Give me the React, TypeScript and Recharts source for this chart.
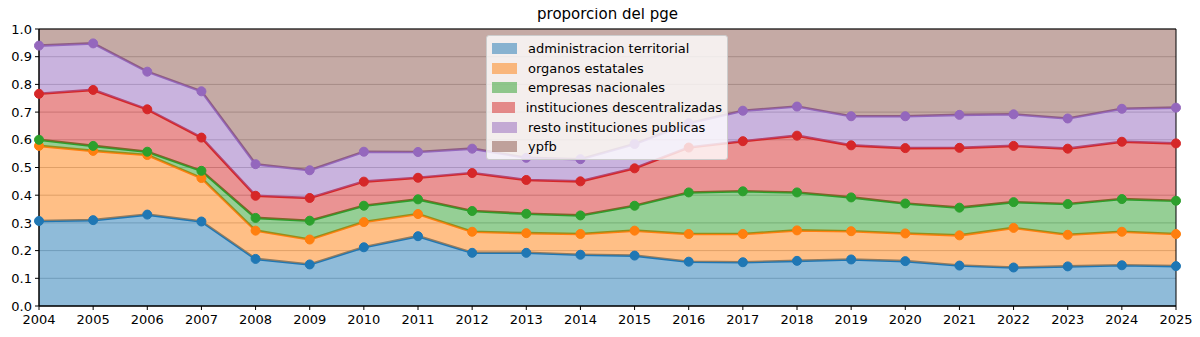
import React from 'react';
import { AreaChart, Area, XAxis, YAxis, CartesianGrid, ReferenceArea } from 'recharts';

const years = [2004, 2005, 2006, 2007, 2008, 2009, 2010, 2011, 2012, 2013, 2014, 2015, 2016, 2017, 2018, 2019, 2020, 2021, 2022, 2023, 2024, 2025];

const adminTerritorial = [0.307, 0.31, 0.33, 0.305, 0.17, 0.15, 0.212, 0.252, 0.192, 0.192, 0.185, 0.182, 0.16, 0.158, 0.163, 0.168, 0.162, 0.146, 0.139, 0.143, 0.147, 0.144];
const organosEstatales = [0.271, 0.25, 0.215, 0.157, 0.102, 0.09, 0.091, 0.08, 0.076, 0.071, 0.075, 0.09, 0.1, 0.102, 0.11, 0.102, 0.1, 0.109, 0.143, 0.114, 0.121, 0.116];
const empresasNacionales = [0.022, 0.018, 0.012, 0.026, 0.046, 0.068, 0.059, 0.053, 0.075, 0.07, 0.067, 0.09, 0.15, 0.154, 0.137, 0.122, 0.108, 0.1, 0.093, 0.111, 0.118, 0.12];
const institucionesDesc = [0.166, 0.202, 0.153, 0.12, 0.08, 0.082, 0.087, 0.078, 0.137, 0.122, 0.123, 0.135, 0.162, 0.181, 0.205, 0.188, 0.2, 0.216, 0.203, 0.2, 0.207, 0.207];
const restoInstituciones = [0.174, 0.168, 0.136, 0.167, 0.114, 0.1, 0.108, 0.093, 0.088, 0.08, 0.08, 0.088, 0.088, 0.11, 0.105, 0.105, 0.115, 0.119, 0.114, 0.109, 0.119, 0.129];
const ypfb = [0.06, 0.052, 0.154, 0.225, 0.488, 0.51, 0.443, 0.444, 0.432, 0.465, 0.47, 0.415, 0.34, 0.295, 0.28, 0.315, 0.315, 0.31, 0.308, 0.323, 0.288, 0.284];

const yTicks = [0, 0.1, 0.2, 0.3, 0.4, 0.5, 0.6, 0.7, 0.8, 0.9, 1.0];

const series = [
  { key: 'administracion territorial', values: adminTerritorial, color: '#1f77b4' },
  { key: 'organos estatales', values: organosEstatales, color: '#ff7f0e' },
  { key: 'empresas nacionales', values: empresasNacionales, color: '#2ca02c' },
  { key: 'instituciones descentralizadas', values: institucionesDesc, color: '#d62728' },
  { key: 'resto instituciones publicas', values: restoInstituciones, color: '#9467bd' },
  { key: 'ypfb', values: ypfb, color: '#8c564b' },
];

const data = years.map((year, i) => {
  const row: Record<string, number> = { year };
  series.forEach((s) => {
    row[s.key] = s.values[i];
  });
  return row;
});

const FONT = '"DejaVu Sans", sans-serif';

const LegendBox = () => (
  <div
    style={{
      position: 'absolute',
      left: 486,
      top: 35,
      background: 'rgba(255,255,255,0.8)',
      border: '1px solid #cccccc',
      borderRadius: 3,
      padding: '3px 5px 2px 5px',
      fontFamily: FONT,
      fontSize: 13,
      color: '#000',
      width: 230,
    }}
  >
    {series.map((s) => (
      <div key={s.key} style={{ display: 'flex', alignItems: 'center', height: 19.6 }}>
        <span
          style={{
            display: 'inline-block',
            width: 25,
            height: 11,
            background: s.color,
            opacity: 0.5,
            border: `1px solid ${s.color}`,
            boxSizing: 'border-box',
            marginRight: 11,
          }}
        />
        <span style={{ whiteSpace: 'nowrap' }}>{s.key}</span>
      </div>
    ))}
  </div>
);

const App = () => {
  return (
    <div style={{ position: 'relative', width: 1200, height: 337, margin: -8, background: '#fff' }}>
      <div
        style={{
          position: 'absolute',
          top: 5,
          left: 39,
          width: 1137,
          textAlign: 'center',
          fontFamily: FONT,
          fontSize: 15,
          color: '#000',
        }}
      >
        proporcion del pge
      </div>
      <AreaChart width={1200} height={337} data={data} margin={{ top: 29, right: 24, bottom: 0, left: 0 }}>
        <CartesianGrid vertical={false} horizontal stroke="#b0b0b0" strokeWidth={0.8} />
        <XAxis
          dataKey="year"
          type="number"
          domain={[2004, 2025]}
          ticks={years}
          interval={0}
          height={31}
          tickSize={4}
          tickMargin={5}
          axisLine={{ stroke: '#000' }}
          tickLine={{ stroke: '#000' }}
          tick={{ fill: '#000', fontSize: 13, fontFamily: FONT }}
        />
        <YAxis
          type="number"
          domain={[0, 1]}
          ticks={yTicks}
          width={39}
          tickSize={4}
          tickMargin={3}
          tickFormatter={(v: number) => v.toFixed(1)}
          axisLine={{ stroke: '#000' }}
          tickLine={{ stroke: '#000' }}
          tick={{ fill: '#000', fontSize: 13, fontFamily: FONT }}
        />
        {series.map((s, idx) => (
          <Area
            key={s.key}
            type="linear"
            dataKey={s.key}
            stackId="1"
            stroke={idx === series.length - 1 ? 'none' : s.color}
            strokeWidth={2.6}
            fill={s.color}
            fillOpacity={0.5}
            dot={idx === series.length - 1 ? false : { r: 4.5, fill: s.color, stroke: s.color, strokeWidth: 1, fillOpacity: 1 }}
            activeDot={false}
            isAnimationActive={false}
          />
        ))}
        <ReferenceArea x1={2004} x2={2025} y1={0} y2={1} fill="none" stroke="#000" strokeWidth={1} ifOverflow="visible" />
      </AreaChart>
      <LegendBox />
    </div>
  );
};

export default App;
